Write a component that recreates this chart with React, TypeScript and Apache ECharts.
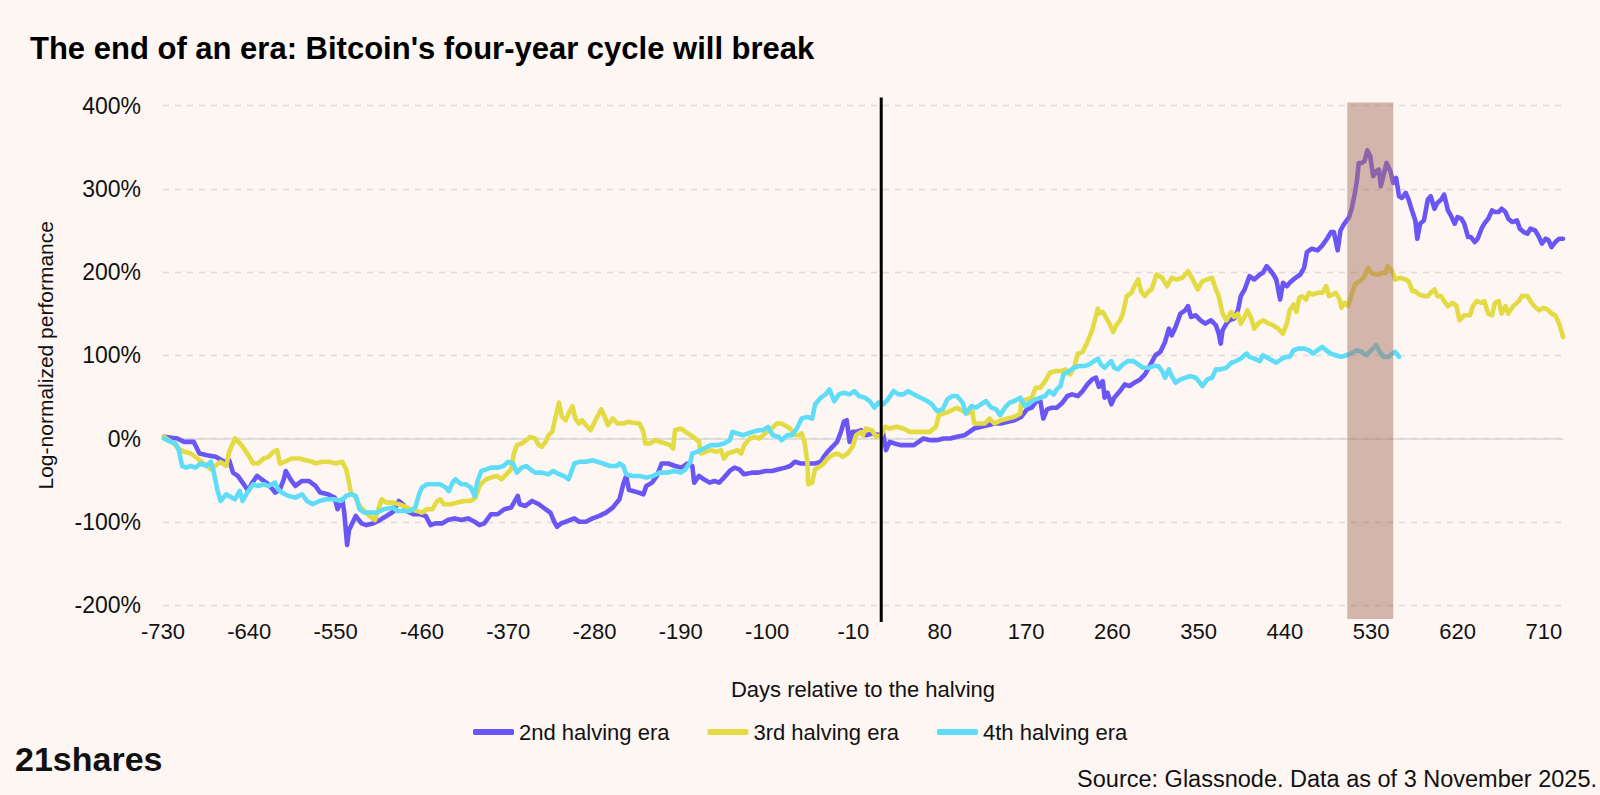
import React, { useEffect, useRef } from "react";
import * as echarts from "echarts";

const FONT = "'Liberation Sans', Arial, Helvetica, sans-serif";

const titleText = "The end of an era: Bitcoin's four-year cycle will break";
const xAxisTitle = "Days relative to the halving";
const yAxisTitle = "Log-normalized performance";
const sourceText = "Source: Glassnode. Data as of 3 November 2025.";
const logoText = "21shares";

const seriesNames = ["2nd halving era", "3rd halving era", "4th halving era"];
const seriesColors = ["#6a55f5", "#e4da44", "#5edcf8"];

const xTickLabels = [-730, -640, -550, -460, -370, -280, -190, -100, -10, 80, 170, 260, 350, 440, 530, 620, 710];
const xRange = [-730, 730];
const yRange = [-200, 400];
const yStep = 100;

const halvingDay = [19];
const highlightBand = [505, 553];

// [days relative to halving, log-normalized performance %]
const era2: number[][] = [
  [-729, 2], [-715, 0], [-708, -4], [-698, -4], [-692, -18], [-684, -20], [-675, -22], [-666, -28], [-661, -26],
  [-657, -41], [-652, -45], [-647, -53], [-641, -63], [-638, -55], [-632, -45], [-627, -49], [-620, -55], [-613, -65],
  [-608, -61], [-604, -49], [-602, -39], [-597, -49], [-592, -57], [-585, -51], [-578, -51], [-571, -57], [-566, -65],
  [-558, -67], [-551, -71], [-548, -85], [-543, -73], [-541, -89], [-538, -128], [-536, -110], [-529, -93], [-523, -102],
  [-518, -104], [-511, -102], [-504, -98], [-497, -93], [-490, -88], [-484, -75], [-479, -80], [-476, -87], [-469, -91],
  [-462, -91], [-456, -93], [-451, -104], [-446, -102], [-439, -102], [-433, -98], [-426, -96], [-419, -98], [-412, -96],
  [-405, -100], [-400, -104], [-395, -102], [-388, -91], [-381, -91], [-374, -85], [-367, -83], [-360, -69], [-358, -79],
  [-352, -81], [-345, -75], [-338, -79], [-331, -85], [-326, -89], [-322, -100], [-319, -106], [-315, -102], [-310, -100],
  [-301, -96], [-296, -100], [-289, -100], [-282, -96], [-275, -93], [-268, -89], [-261, -83], [-254, -73], [-250, -55],
  [-247, -45], [-244, -62], [-240, -63], [-234, -65], [-229, -67], [-226, -57], [-220, -53], [-215, -45], [-210, -30],
  [-203, -30], [-196, -33], [-189, -35], [-183, -30], [-178, -33], [-176, -53], [-171, -45], [-166, -49], [-160, -53],
  [-155, -51], [-150, -53], [-145, -47], [-139, -39], [-134, -35], [-129, -37], [-124, -43], [-116, -41], [-109, -41],
  [-102, -39], [-95, -39], [-88, -37], [-81, -35], [-76, -33], [-71, -28], [-65, -30], [-60, -30], [-55, -30], [-50, -30],
  [-44, -28], [-41, -22], [-37, -16], [-32, -10], [-27, -4], [-23, 8], [-20, 20], [-17, 22], [-14, -4], [-11, 8], [-7, 8],
  [-2, 10], [3, 4], [10, 6], [17, 4], [21, 6], [24, -14], [28, -4], [33, -6], [39, -8], [46, -8], [53, -8], [58, -4],
  [63, 0], [70, -2], [77, -2], [84, 0], [91, 0], [98, 2], [106, 4], [111, 8], [116, 12], [123, 14], [130, 16], [137, 18],
  [144, 18], [151, 20], [158, 22], [165, 26], [171, 35], [176, 37], [181, 45], [185, 45], [188, 24], [192, 35], [197, 37],
  [202, 37], [208, 43], [213, 51], [218, 53], [224, 51], [229, 57], [234, 65], [239, 71], [243, 73], [246, 62], [250, 69],
  [252, 49], [255, 55], [259, 41], [262, 49], [268, 57], [273, 65], [278, 63], [283, 67], [289, 71], [294, 77], [299, 87],
  [305, 100], [310, 104], [315, 116], [319, 132], [322, 124], [326, 134], [331, 150], [336, 154], [339, 159], [342, 146],
  [347, 148], [352, 142], [357, 138], [363, 142], [368, 136], [371, 126], [373, 114], [375, 130], [379, 138], [382, 142],
  [387, 144], [391, 154], [394, 171], [398, 179], [403, 195], [408, 191], [414, 197], [417, 199], [421, 207], [424, 203],
  [428, 197], [431, 191], [435, 167], [438, 187], [442, 183], [445, 187], [451, 193], [456, 197], [460, 205], [463, 224],
  [468, 228], [474, 226], [479, 232], [484, 240], [488, 248], [491, 248], [495, 226], [498, 250], [502, 258], [507, 266],
  [510, 278], [513, 295], [515, 309], [517, 331], [520, 331], [523, 333], [526, 346], [529, 339], [532, 315], [535, 321],
  [538, 323], [540, 303], [543, 317], [546, 331], [550, 321], [553, 307], [556, 313], [559, 291], [562, 289], [566, 295],
  [569, 287], [573, 272], [576, 262], [578, 240], [581, 258], [585, 262], [589, 287], [592, 291], [596, 276], [599, 283],
  [603, 287], [606, 293], [610, 274], [613, 268], [617, 258], [620, 266], [624, 264], [627, 258], [631, 242], [634, 242],
  [638, 236], [641, 240], [645, 252], [648, 258], [652, 264], [656, 274], [659, 272], [663, 272], [666, 276], [670, 272],
  [673, 264], [677, 260], [682, 262], [685, 252], [689, 248], [693, 246], [696, 252], [701, 250], [705, 242], [708, 234],
  [712, 240], [715, 238], [718, 230], [722, 236], [726, 240], [730, 240],
];

const era3: number[][] = [
  [-729, 2], [-719, -6], [-714, -12], [-708, -16], [-701, -18], [-694, -24], [-684, -33], [-680, -37], [-670, -28],
  [-664, -33], [-661, -16], [-655, 0], [-648, -8], [-641, -20], [-636, -30], [-631, -30], [-625, -24], [-620, -22],
  [-615, -16], [-611, -14], [-608, -30], [-603, -28], [-596, -24], [-588, -24], [-581, -26], [-574, -28], [-571, -30],
  [-564, -28], [-557, -28], [-550, -30], [-543, -28], [-539, -37], [-536, -53], [-534, -65], [-530, -69], [-525, -81],
  [-520, -87], [-515, -93], [-509, -98], [-506, -87], [-502, -73], [-497, -77], [-490, -77], [-484, -79], [-479, -81],
  [-472, -85], [-465, -87], [-460, -89], [-455, -85], [-449, -85], [-444, -75], [-441, -73], [-437, -79], [-430, -79],
  [-423, -77], [-416, -75], [-409, -75], [-404, -71], [-400, -57], [-397, -53], [-393, -49], [-388, -47], [-382, -45],
  [-377, -49], [-372, -43], [-367, -37], [-364, -18], [-361, -8], [-356, -6], [-351, -2], [-347, 2], [-342, 0], [-338, -8],
  [-335, -10], [-331, -4], [-328, 4], [-324, 8], [-321, 24], [-317, 43], [-314, 26], [-310, 22], [-307, 30], [-303, 39],
  [-300, 24], [-296, 18], [-293, 22], [-289, 16], [-284, 10], [-279, 22], [-273, 35], [-270, 28], [-266, 16], [-261, 24],
  [-256, 18], [-250, 18], [-245, 20], [-240, 19], [-233, 18], [-229, 8], [-227, -6], [-222, -6], [-217, -2], [-212, -4],
  [-206, -6], [-201, -8], [-198, -12], [-196, 10], [-190, 12], [-185, 8], [-180, 4], [-175, 0], [-171, -4], [-169, -18],
  [-164, -16], [-159, -14], [-153, -16], [-148, -14], [-145, -24], [-141, -18], [-136, -16], [-131, -14], [-127, -18],
  [-124, -8], [-118, 0], [-113, 2], [-108, 0], [-102, 6], [-95, 12], [-90, 18], [-85, 18], [-79, 14], [-76, 12], [-71, 4],
  [-67, 4], [-64, 6], [-61, -4], [-58, -28], [-57, -55], [-53, -53], [-50, -37], [-44, -33], [-41, -30], [-37, -24],
  [-32, -20], [-27, -18], [-21, -22], [-16, -18], [-11, -10], [-7, 4], [-2, 8], [0, 4], [3, 12], [9, 10], [14, 2],
  [19, 4], [23, 14], [28, 12], [35, 14], [42, 12], [49, 8], [56, 8], [63, 8], [70, 8], [76, 14], [79, 28], [84, 30],
  [91, 33], [98, 37], [104, 33], [109, 30], [114, 33], [116, 18], [121, 18], [127, 18], [132, 24], [137, 18], [144, 22],
  [151, 24], [158, 26], [164, 30], [165, 45], [171, 47], [176, 49], [180, 61], [185, 61], [190, 69], [195, 79], [201, 81],
  [206, 81], [211, 83], [216, 77], [220, 85], [224, 102], [229, 104], [234, 116], [239, 130], [245, 156], [246, 150],
  [250, 152], [253, 146], [257, 138], [261, 128], [264, 136], [268, 142], [271, 150], [275, 171], [280, 175], [283, 183],
  [287, 191], [290, 177], [294, 171], [298, 177], [301, 179], [306, 197], [312, 193], [317, 183], [322, 193], [327, 191],
  [333, 193], [339, 201], [343, 193], [349, 179], [354, 189], [359, 191], [364, 193], [368, 179], [371, 171], [375, 150],
  [379, 142], [384, 152], [387, 146], [391, 150], [394, 138], [398, 146], [401, 154], [405, 144], [408, 132], [412, 138],
  [417, 142], [423, 138], [428, 136], [433, 132], [438, 126], [442, 138], [445, 154], [449, 161], [452, 152], [455, 169],
  [458, 171], [462, 167], [465, 175], [469, 173], [474, 175], [479, 175], [483, 183], [486, 171], [490, 173], [493, 175],
  [497, 167], [499, 157], [502, 163], [506, 159], [509, 171], [513, 185], [518, 189], [522, 193], [527, 205], [530, 199],
  [534, 197], [538, 197], [541, 199], [545, 199], [547, 207], [552, 201], [555, 191], [560, 193], [566, 191], [569, 189],
  [573, 177], [576, 177], [580, 173], [585, 171], [589, 171], [592, 175], [596, 179], [599, 171], [603, 171], [606, 165],
  [610, 159], [615, 163], [619, 159], [622, 142], [627, 148], [633, 148], [636, 159], [640, 165], [645, 163], [648, 165],
  [652, 150], [656, 148], [659, 163], [663, 165], [666, 150], [670, 159], [673, 150], [678, 159], [684, 165], [687, 171],
  [693, 171], [696, 165], [700, 159], [705, 154], [710, 157], [715, 154], [718, 150], [722, 148], [726, 138], [730, 122],
];

const era4: number[][] = [
  [-729, 0], [-722, -4], [-717, -6], [-714, -12], [-710, -33], [-706, -35], [-701, -33], [-696, -35], [-691, -30],
  [-685, -33], [-680, -28], [-677, -41], [-673, -63], [-670, -75], [-664, -67], [-661, -69], [-655, -73], [-650, -63],
  [-647, -75], [-641, -63], [-636, -55], [-631, -57], [-625, -55], [-620, -57], [-613, -53], [-610, -61], [-606, -65],
  [-599, -69], [-592, -71], [-585, -67], [-580, -75], [-574, -79], [-567, -75], [-560, -73], [-552, -73], [-544, -75],
  [-539, -69], [-534, -67], [-529, -69], [-525, -85], [-520, -89], [-515, -89], [-507, -89], [-500, -85], [-490, -83],
  [-486, -87], [-479, -87], [-472, -87], [-467, -83], [-463, -67], [-460, -59], [-455, -55], [-448, -55], [-441, -55],
  [-435, -59], [-432, -63], [-428, -53], [-425, -49], [-419, -55], [-414, -55], [-409, -59], [-405, -69], [-402, -51],
  [-398, -39], [-393, -37], [-388, -35], [-381, -35], [-375, -33], [-370, -28], [-365, -30], [-361, -41], [-356, -35],
  [-351, -33], [-347, -37], [-342, -41], [-335, -41], [-328, -43], [-323, -39], [-317, -43], [-312, -45], [-307, -49],
  [-301, -30], [-296, -28], [-289, -28], [-282, -26], [-277, -28], [-271, -30], [-264, -33], [-257, -33], [-254, -30],
  [-250, -33], [-247, -43], [-240, -45], [-233, -45], [-226, -47], [-219, -45], [-212, -41], [-205, -41], [-197, -39],
  [-190, -41], [-185, -37], [-180, -28], [-178, -18], [-173, -16], [-166, -12], [-159, -8], [-152, -8], [-145, -6],
  [-139, -2], [-136, 8], [-131, 6], [-125, 4], [-120, 6], [-115, 8], [-109, 10], [-104, 10], [-99, 14], [-94, 4],
  [-88, 2], [-85, -2], [-79, 4], [-74, 4], [-69, 12], [-64, 24], [-58, 26], [-53, 24], [-50, 41], [-44, 49], [-39, 53],
  [-35, 59], [-30, 45], [-25, 53], [-20, 55], [-14, 53], [-9, 57], [-4, 51], [2, 49], [7, 45], [12, 37], [16, 43],
  [21, 41], [26, 47], [32, 57], [37, 53], [42, 53], [47, 57], [53, 53], [60, 49], [67, 45], [72, 41], [77, 33], [83, 35],
  [88, 47], [93, 51], [98, 51], [104, 43], [107, 30], [113, 39], [118, 37], [123, 41], [128, 45], [134, 37], [139, 35],
  [143, 28], [148, 37], [153, 43], [158, 45], [164, 49], [169, 39], [174, 43], [180, 47], [185, 49], [190, 51], [194, 57],
  [199, 53], [202, 59], [206, 63], [209, 77], [215, 81], [220, 85], [225, 87], [231, 87], [236, 89], [241, 93], [245, 96],
  [248, 89], [252, 85], [255, 89], [259, 93], [262, 85], [266, 83], [271, 89], [276, 93], [282, 93], [287, 89], [292, 85],
  [298, 85], [303, 87], [308, 87], [312, 81], [315, 73], [319, 83], [322, 75], [326, 67], [331, 71], [336, 73], [342, 75],
  [347, 73], [350, 69], [354, 63], [359, 71], [364, 73], [368, 83], [373, 83], [379, 85], [384, 91], [389, 93], [394, 96],
  [400, 102], [403, 98], [408, 96], [414, 93], [417, 100], [423, 96], [428, 93], [431, 91], [437, 96], [442, 98],
  [445, 98], [449, 106], [454, 108], [460, 108], [465, 106], [469, 102], [474, 106], [479, 110], [483, 106], [488, 102],
  [493, 100], [499, 98], [504, 100], [509, 102], [515, 106], [520, 104], [525, 100], [530, 106], [535, 112], [539, 104],
  [543, 98], [548, 98], [552, 102], [555, 104], [559, 98],
];

const eraData = [era2, era3, era4];

export default function App() {
  const ref = useRef<HTMLDivElement>(null);

  useEffect(() => {
    if (!ref.current) return;
    const chart = echarts.init(ref.current, null, { renderer: "svg" });

    const lineSeries = seriesNames.map((name, i) => ({
      name,
      type: "line",
      data: eraData[i],
      showSymbol: false,
      symbol: "none",
      color: seriesColors[i],
      lineStyle: { width: 4.6, color: seriesColors[i], join: "round", cap: "round" },
      z: 3,
    }));

    const option: any = {
      animation: false,
      backgroundColor: "#fdf6f2",
      textStyle: { fontFamily: FONT },
      title: {
        text: titleText,
        left: 25,
        top: 28,
        textStyle: { fontSize: 31, fontWeight: "bold", color: "#000", fontFamily: FONT },
      },
      grid: { left: 163, right: 37, top: 105.5, bottom: 190, containLabel: false },
      legend: {
        data: seriesNames,
        left: 468,
        top: 716,
        icon: "roundRect",
        itemWidth: 41,
        itemHeight: 6,
        itemGap: 38,
        textStyle: { fontSize: 22, color: "#111", fontFamily: FONT },
      },
      xAxis: [
        {
          type: "value",
          min: xRange[0],
          max: xRange[1],
          axisLine: { show: false, onZero: false },
          axisTick: { show: false },
          splitLine: { show: false },
          axisLabel: { customValues: xTickLabels, fontSize: 22, color: "#111", margin: 15, fontFamily: FONT },
          name: xAxisTitle,
          nameLocation: "middle",
          nameGap: 73,
          nameTextStyle: { fontSize: 22, color: "#111", fontFamily: FONT },
        },
        {
          type: "value",
          min: xRange[0],
          max: xRange[1],
          position: "bottom",
          axisLine: { show: true, onZero: true, lineStyle: { color: "#d6d6d6", width: 1.5 } },
          axisTick: { show: false },
          axisLabel: { show: false },
          splitLine: { show: false },
        },
      ],
      yAxis: {
        type: "value",
        min: yRange[0],
        max: yRange[1],
        interval: yStep,
        axisLine: { show: false },
        axisTick: { show: false },
        axisLabel: { formatter: "{value}%", fontSize: 23, color: "#111", margin: 22, fontFamily: FONT },
        splitLine: { lineStyle: { type: [6, 6], color: "#dcdcdc", width: 1.3 } },
        name: yAxisTitle,
        nameLocation: "middle",
        nameGap: 107,
        nameRotate: 90,
        nameTextStyle: { fontSize: 21, color: "#111", fontFamily: FONT },
      },
      series: [
        ...lineSeries,
        {
          type: "custom",
          name: "band",
          data: [highlightBand],
          silent: true,
          clip: false,
          z: 10,
          encode: { x: [0, 1] },
          renderItem: (_p: any, api: any) => {
            const a = api.coord([api.value(0), yRange[1]]);
            const b = api.coord([api.value(1), yRange[0]]);
            return {
              type: "rect",
              shape: { x: a[0], y: a[1] - 3, width: b[0] - a[0], height: b[1] - a[1] + 17 },
              style: { fill: "rgba(171,116,99,0.5)" },
            };
          },
        },
        {
          type: "custom",
          name: "halving",
          data: halvingDay.map((d) => [d]),
          silent: true,
          clip: false,
          z: 11,
          encode: { x: 0 },
          renderItem: (_p: any, api: any) => {
            const a = api.coord([api.value(0), yRange[1]]);
            const b = api.coord([api.value(0), yRange[0]]);
            return {
              type: "line",
              shape: { x1: a[0], y1: a[1] - 8, x2: b[0], y2: b[1] + 17 },
              style: { stroke: "#000", lineWidth: 3 },
            };
          },
        },
      ],
      graphic: [
        {
          type: "text",
          right: 3,
          top: 767,
          style: { text: sourceText, fontSize: 23.5, fill: "#111", fontFamily: FONT },
        },
        {
          type: "text",
          left: 15,
          top: 742,
          style: { text: logoText, fontSize: 34, fontWeight: "bold", fill: "#111", fontFamily: FONT },
        },
      ],
    };

    chart.setOption(option);
    return () => chart.dispose();
  }, []);

  return (
    <div
      ref={ref}
      style={{ position: "absolute", left: 0, top: 0, width: 1600, height: 795 }}
    />
  );
}
